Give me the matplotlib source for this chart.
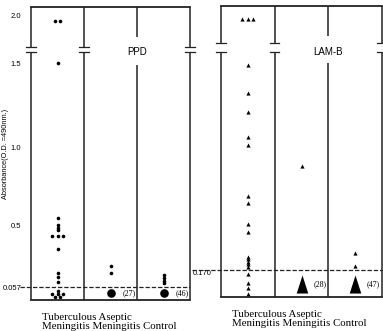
import numpy as np
import matplotlib
matplotlib.use("Agg")
import matplotlib.pyplot as plt
from matplotlib.path import Path

# values (absorbance, O.D. 490 nm)
groups = ["Tuberculous", "Aseptic", "Control"]

ppd_tb = [1.93, 1.93, 1.5, 0.55, 0.506, 0.485, 0.471, 0.427, 0.427, 0.427,
          0.333, 0.159, 0.13, 0.093, 0.038, 0.027, 0.027, 0.027, 0.012, 0.012]
ppd_aseptic = [0.21, 0.159]
ppd_control = [0.144, 0.122, 0.1, 0.086]
ppd_cutoff = 0.057
ppd_neg_counts = [27, 46]
ppd_neg_level = 0.03

lam_tb = [1.95, 1.95, 1.95, 1.49, 1.32, 1.21, 1.06, 1.01, 0.69, 0.646, 0.513,
          0.455, 0.268, 0.253, 0.23, 0.215, 0.192, 0.145, 0.088, 0.057, 0.019]
lam_aseptic = [0.88]
lam_control = [0.298, 0.2]
lam_cutoff = 0.170
lam_neg_counts = [28, 47]
lam_neg_level = 0.079

W, H = 383, 331
fig = plt.figure(figsize=(W / 100, H / 100), dpi=100)

SANS = "Liberation Sans"
SERIF = "Liberation Serif"

# narrow upright triangle for the pooled negatives
big_tri = Path([(-0.32, -0.5), (0.32, -0.5), (0, 0.5), (-0.32, -0.5)],
               [Path.MOVETO, Path.LINETO, Path.LINETO, Path.CLOSEPOLY])


def piecewise_scale(ax, kv, kp):
    kv = np.array(kv, float)
    kp = np.array(kp, float)
    fwd = lambda v: np.interp(v, kv, kp)
    inv = lambda p: np.interp(p, kp, kv)
    ax.set_yscale("function", functions=(fwd, inv))


def vline(ax, x, top, gap, marks=True):
    kw = dict(color="#222222", lw=1.1, clip_on=False, solid_capstyle="butt")
    ax.plot([x, x], [0, gap[0]], **kw)
    ax.plot([x, x], [gap[1], top], **kw)
    if marks:
        for g in gap:
            ax.plot([x - 0.09, x + 0.09], [g, g], color="#222222", lw=0.9,
                    clip_on=False)


def spread(vals):
    xs, ys = [], []
    for v in sorted(set(vals), reverse=True):
        n = vals.count(v)
        for k in range(n):
            xs.append((k - (n - 1) / 2) * 0.1)
            ys.append(v)
    return np.array(xs), np.array(ys)


def panel(rect, kv, kp, top, series, marker, ms, cutoff, cut_x0, counts,
          neg_level, big_marker, big_ms, gap, label_gap, title):
    ax = fig.add_axes(rect)
    piecewise_scale(ax, kv, kp)
    ax.set_xlim(-0.5, 2.5)
    ax.set_ylim(0, top)
    for s in ["left", "right"]:
        ax.spines[s].set_visible(False)
    for s in ["top", "bottom"]:
        ax.spines[s].set_linewidth(1.3)
        ax.spines[s].set_color("#222222")
    ax.set_xticks([])

    for i, vals in enumerate(series):
        dx, ys = spread(vals)
        ax.plot(i + dx, ys, linestyle="none", marker=marker, ms=ms,
                color="black", mec="black", mew=0)

    for i, n in enumerate(counts):
        ax.plot(i + 1, neg_level, linestyle="none", marker=big_marker,
                ms=big_ms, color="black", mew=0)
        ax.text(i + 1.22, neg_level, "(%d)" % n, fontsize=5.8,
                family=SERIF, va="center", ha="left")

    ax.axhline(cutoff, xmin=cut_x0, xmax=1.0, color="#222222", lw=0.9,
               dashes=(3.5, 1.5), clip_on=False)

    vline(ax, -0.5, top, gap)
    vline(ax, 0.5, top, gap)
    vline(ax, 1.5, top, label_gap, marks=False)
    vline(ax, 2.5, top, gap)
    ax.text(1.5, (label_gap[0] + label_gap[1]) / 2 - 0.05, title,
            fontsize=7, family=SANS, ha="center", va="center")

    ax.text(0.07, -0.045, "Tuberculous Aseptic\nMeningitis Meningitis Control",
            transform=ax.transAxes, fontsize=7.8, family=SERIF,
            ha="left", va="top", linespacing=1.0)
    return ax


# left panel (PPD): axes from x=31..190, y=7..300 px
axL = panel([31 / W, (H - 300) / H, 159 / W, 293 / H],
            [0, 0.057, 0.5, 1.0, 1.5, 1.58, 2.1],
            [0, 13, 74, 153, 237, 250, 293], 2.1,
            [ppd_tb, ppd_aseptic, ppd_control], "o", 2.6,
            ppd_cutoff, -0.07, ppd_neg_counts, ppd_neg_level, "o", 6.2,
            (1.568, 1.616), (1.49, 1.74), "PPD")
axL.set_yticks([ppd_cutoff, 0.5, 1.0, 1.5, 2.0])
axL.set_yticklabels(["0.057", "0.5", "1.0", "1.5", "2.0"])
axL.tick_params(axis="y", length=0, pad=7, labelsize=5.5)
for t in axL.get_yticklabels():
    t.set_family(SANS)
axL.set_ylabel("Absorbance(O.D. =490nm.)", fontsize=5.3, family=SANS,
               labelpad=4)
axL.yaxis.set_label_coords(-0.14, 0.5)

# right panel (LAM-B): axes from x=221..382, y=6..297 px
axR = panel([221 / W, (H - 297) / H, 161 / W, 291 / H],
            [0, 0.170, 0.5, 1.0, 1.5, 1.58, 2.1],
            [0, 27, 71, 150, 234, 247, 291], 2.1,
            [lam_tb, lam_aseptic, lam_control], "^", 3.0,
            lam_cutoff, -0.18, lam_neg_counts, lam_neg_level, big_tri, 13,
            (1.568, 1.66), (1.5, 1.74), "LAM-B")
axR.set_yticks([lam_cutoff])
axR.set_yticklabels(["0.170"])
axR.tick_params(axis="y", length=0, pad=7, labelsize=5.5)
for t in axR.get_yticklabels():
    t.set_family(SANS)
    t.set_verticalalignment("top")

fig.savefig("out.png", dpi=100)
